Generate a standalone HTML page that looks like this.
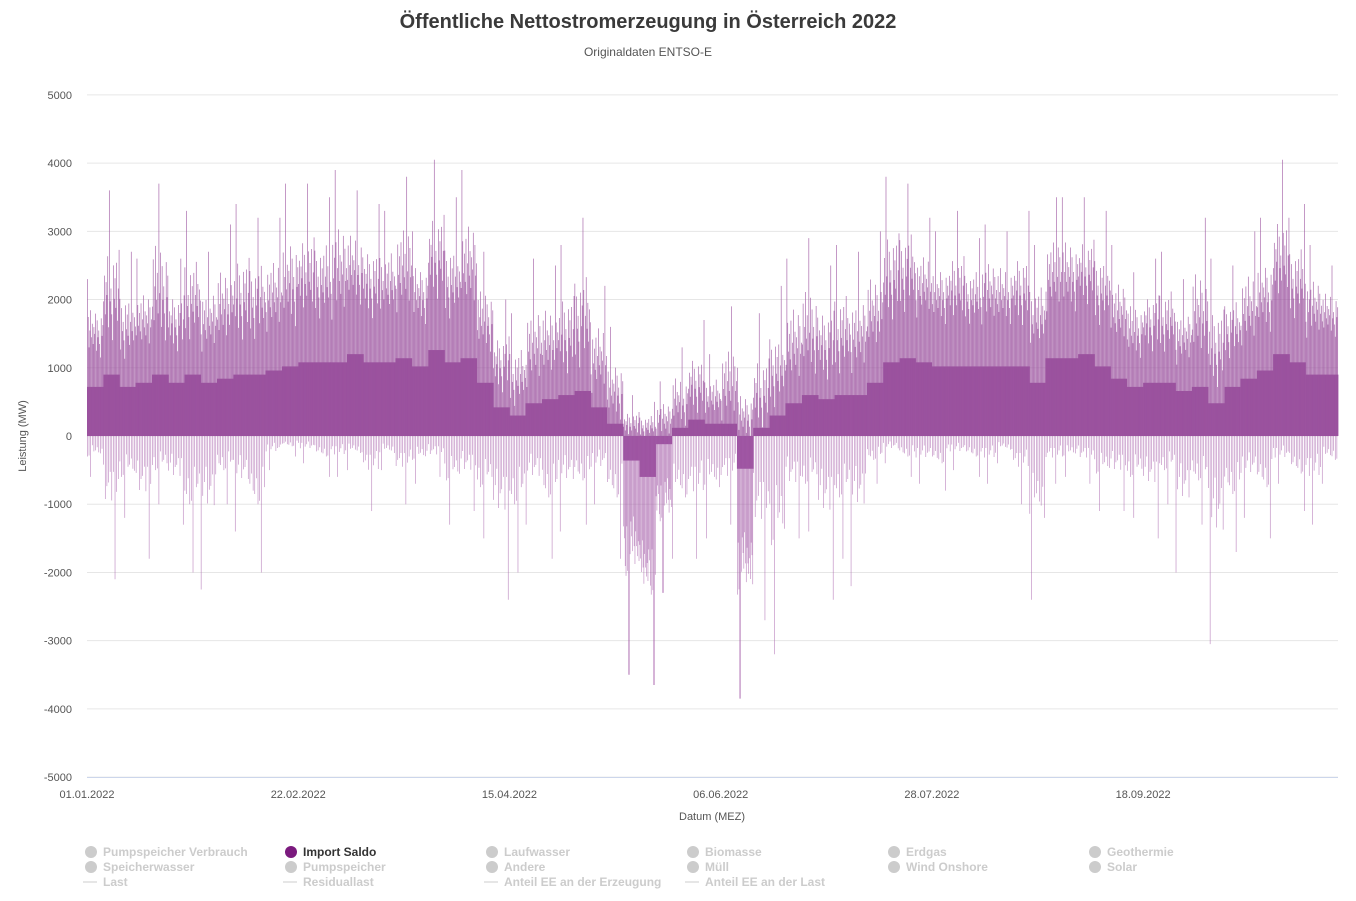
<!DOCTYPE html>
<html><head><meta charset="utf-8"><style>
body{margin:0;background:#fff;font-family:"Liberation Sans",sans-serif}
svg text{font-family:"Liberation Sans",sans-serif}
</style></head><body>
<svg id="chart" width="1356" height="896" xmlns="http://www.w3.org/2000/svg">
<text x="648" y="28" text-anchor="middle" font-size="20" font-weight="bold" fill="#3a3a3a">Öffentliche Nettostromerzeugung in Österreich 2022</text>
<text x="648" y="56" text-anchor="middle" font-size="12" fill="#555">Originaldaten ENTSO-E</text>
<g id="grid"></g><g id="marks"></g><g id="axes"></g><g id="legend"></g>
<text transform="translate(26,436) rotate(-90)" text-anchor="middle" font-size="11" fill="#555">Leistung (MW)</text>
<text x="712" y="820" text-anchor="middle" font-size="11" fill="#555">Datum (MEZ)</text>
</svg>
<script>
const yTicks=[5000,4000,3000,2000,1000,0,-1000,-2000,-3000,-4000,-5000];
const xTickLabels=["01.01.2022","22.02.2022","15.04.2022","06.06.2022","28.07.2022","18.09.2022"];
const xTickDays=[0,52,104,156,208,260];
const binDays=4;
const peak=[2300,3600,2700,2600,3700,2600,3300,2700,3100,3400,3200,3200,3700,3700,3500,3900,3600,3400,3300,3800,3000,4050,3500,3900,2700,2000,1800,2600,2500,2800,3200,2200,1600,600,500,800,1300,1700,1200,1900,1000,1800,2200,2600,2900,2500,2800,2700,3000,3800,3700,3200,3000,3300,2900,3100,3000,3300,2800,3500,3500,3500,3300,2800,2400,2600,2700,2300,3200,2600,2500,3000,3200,4050,3400,2800,2500];
const trough=[-600,-2100,-1200,-1800,-1000,-1300,-2000,-2250,-1000,-1400,-2000,-500,-300,-400,-600,-600,-500,-1100,-500,-1000,-700,-600,-1300,-1100,-1500,-2400,-2000,-1300,-1800,-1400,-1300,-1000,-1800,-3500,-3650,-2300,-1800,-1800,-1500,-1300,-3850,-2700,-3200,-1500,-1400,-2400,-1800,-2200,-700,-400,-600,-700,-800,-500,-600,-700,-400,-1000,-2400,-700,-600,-700,-1100,-1100,-1200,-1500,-1000,-2000,-1300,-3050,-1700,-1200,-1500,-700,-1100,-1300,-700];
const typical=[1200,1500,1200,1300,1500,1300,1500,1300,1400,1500,1500,1600,1700,1800,1800,1800,2000,1800,1800,1900,1700,2100,1800,1900,1300,700,500,800,900,1000,1100,700,300,-600,-1000,-200,200,400,300,300,-800,200,500,800,1000,900,1000,1000,1300,1800,1900,1800,1700,1700,1700,1700,1700,1700,1300,1900,1900,2000,1700,1400,1200,1300,1300,1100,1200,800,1200,1400,1600,2000,1800,1500,1500];
const NS="http://www.w3.org/2000/svg";
const x0=87,x1=1338,pxPerDay=4.062;
const X=d=>x0+d*pxPerDay;
const Y=v=>436-v*0.06822;
function mk(tag,attrs,parent){const e=document.createElementNS(NS,tag);for(const k in attrs)e.setAttribute(k,attrs[k]);parent.appendChild(e);return e;}
const grid=document.getElementById('grid'),axes=document.getElementById('axes'),marks=document.getElementById('marks'),legend=document.getElementById('legend');
yTicks.forEach(v=>{
 const l=mk('line',{x1:x0,x2:x1,y1:Y(v),y2:Y(v),stroke:'#e6e6e6'},grid);
 
 
 const t=mk('text',{x:72,y:Y(v)+4,'text-anchor':'end','font-size':11,fill:'#555'},axes);
 t.textContent=v;
 
 
});
const ax=mk('line',{x1:x0,x2:x1,y1:777.5,y2:777.5,stroke:'#ccd6eb'},axes);


xTickLabels.forEach((s,i)=>{
 const t=mk('text',{x:X(xTickDays[i]),y:798,'text-anchor':'middle','font-size':11,fill:'#555'},axes);
 t.textContent=s;
 
 
});
const pattern=[0.55,0.9,0.45,0.7,1.0,0.6,0.8,0.5,0.75,0.65,0.95,0.4,0.85,0.6,0.7,0.5,0.3,0.88,0.62,0.78];
const npat=pattern.length;
peak.forEach((p,i)=>{
 const d0=i*binDays, w=binDays*pxPerDay;
 const tp=typical[i];
 const body=tp*0.6;
 const r=mk('rect',{x:X(d0),width:w+0.3,y:Math.min(Y(body),Y(0)),height:Math.abs(Y(body)-Y(0)),fill:'#9b529f'},marks);
 
 
 for(let k=0;k<npat;k++){
  const xx=X(d0)+(k+0.5)*w/npat;
  const f=pattern[(k+i*5)%npat];
  const f2=pattern[(k*3+i*7+4)%npat];
  const top=k===((i*7)%npat)?p:Math.max(0,tp)+(p-Math.max(0,tp))*(f-0.35)*0.9;
  const ln=mk('line',{x1:xx,x2:xx,y1:Y(top),y2:Y(0),stroke:'#9b529f','stroke-width':0.7,'stroke-opacity':0.85},marks);
  
  
  if(k%2===0||tp<0){
   const bot=k===((i*11+3)%npat)||k===((i*11+4)%npat)?trough[i]:Math.min(0,tp)+(trough[i]-Math.min(0,tp))*f2*0.5;
   const ln2=mk('line',{x1:xx,x2:xx,y1:Y(0),y2:Y(bot),stroke:'#a35aa7','stroke-width':0.6,'stroke-opacity':0.75},marks);
   
   
  }
 }
});
const items=[["Pumpspeicher Verbrauch","dot"],["Import Saldo","dot"],["Laufwasser","dot"],["Biomasse","dot"],["Erdgas","dot"],["Geothermie","dot"],
["Speicherwasser","dot"],["Pumpspeicher","dot"],["Andere","dot"],["Müll","dot"],["Wind Onshore","dot"],["Solar","dot"],
["Last","line"],["Residuallast","line"],["Anteil EE an der Erzeugung","line"],["Anteil EE an der Last","line"]];
const colX=[87,287,488,689,890,1091];
items.forEach((it,i)=>{
 const c=i%6,r=Math.floor(i/6);const x=colX[c],y=852+r*15;
 const active=it[0]==="Import Saldo";
 const g=mk('g',{},legend);
 
 
 if(it[1]==="dot")mk('circle',{cx:x+4,cy:y,r:6,fill:active?'#7b1a7e':'#ccc'},g);
 else mk('line',{x1:x-4,x2:x+10,y1:y,y2:y,stroke:'#ccc'},g);
 const t=mk('text',{x:x+16,y:y+4,'font-size':12,'font-weight':'bold',fill:active?'#333':'#ccc'},g);
 t.textContent=it[0];
});
</script>
</body></html>
